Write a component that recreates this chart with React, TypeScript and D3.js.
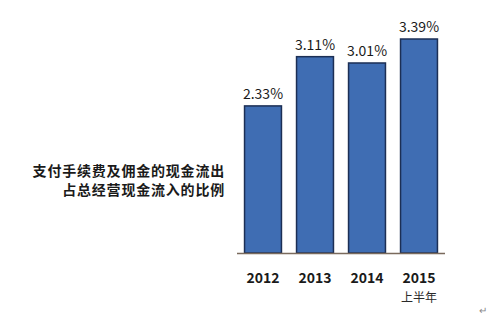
import React from "react";
import * as d3 from "d3";

const categories = ["2012", "2013", "2014", "2015"];
const subLabels = ["", "", "", "上半年"];
const values = [2.33, 3.11, 3.01, 3.39];
const titleLines = ["支付手续费及佣金的现金流出", "占总经营现金流入的比例"];

export default function App() {
  const W = 500, H = 323;
  const baseY = 253;
  const x = d3.scaleBand<string>().domain(categories).range([237, 445]).paddingInner(0.29).paddingOuter(0.145);
  const y = d3.scaleLinear().domain([0, 3.39]).range([baseY, 39]);
  const font = "'Noto Sans CJK SC', 'Liberation Sans', sans-serif";
  return (
    <svg width={W} height={H} style={{ position: "absolute", left: 0, top: 0, background: "#fff" }}>
      <rect x={0} y={0} width={W} height={H} fill="#fff" />
      {categories.map((c, i) => {
        const bx = x(c)!;
        const bw = x.bandwidth();
        const top = y(values[i]);
        return (
          <g key={c}>
            <rect x={bx} y={top} width={bw} height={baseY - top} fill="#3f6db3" stroke="#1c2f55" strokeWidth={1.5} />
            <text x={bx + bw / 2} y={top - 7} textAnchor="middle" fontFamily={font} fontSize={14} fill="#1a1a1a">
              {values[i].toFixed(2)}%
            </text>
            <text x={bx + bw / 2} y={283} textAnchor="middle" fontFamily={font} fontSize={14} fontWeight="bold" fill="#1a1a1a">
              {c}
            </text>
            {subLabels[i] && (
              <text x={bx + bw / 2} y={302} textAnchor="middle" fontFamily={font} fontSize={12} fill="#2a2a2a">
                {subLabels[i]}
              </text>
            )}
          </g>
        );
      })}
      <line x1={237} x2={445} y1={baseY + 0.5} y2={baseY + 0.5} stroke="#7a6a5c" strokeWidth={1.5} />
      {titleLines.map((t, i) => (
        <text key={i} x={225} y={176 + i * 19} textAnchor="end" fontFamily={font} fontSize={14} fontWeight="bold" letterSpacing={0.8} fill="#1a1a1a">
          {t}
        </text>
      ))}
      <text x={483} y={314} textAnchor="middle" fontFamily={font} fontSize={10} fill="#888">↵</text>
    </svg>
  );
}
